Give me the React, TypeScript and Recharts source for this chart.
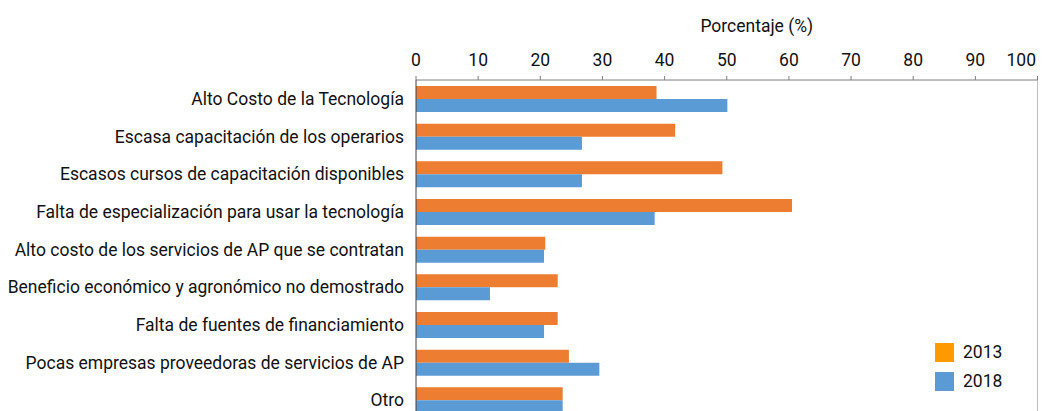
import { BarChart, Bar, XAxis, YAxis, ReferenceLine } from 'recharts';

const categories = [
  'Alto Costo de la Tecnología',
  'Escasa capacitación de los operarios',
  'Escasos cursos de capacitación disponibles',
  'Falta de especialización para usar la tecnología',
  'Alto costo de los servicios de AP que se contratan',
  'Beneficio económico y agronómico no demostrado',
  'Falta de fuentes de financiamiento',
  'Pocas empresas proveedoras de servicios de AP',
  'Otro',
];

const values2013 = [38.7, 41.7, 49.3, 60.5, 20.8, 22.8, 22.8, 24.6, 23.6];
const values2018 = [50.1, 26.7, 26.7, 38.4, 20.6, 11.9, 20.6, 29.5, 23.6];

const xTicks = [0, 10, 20, 30, 40, 50, 60, 70, 80, 90, 100];

const BAR_COLORS = { y2013: '#ED7D31', y2018: '#5B9BD5' };
const LEGEND_ITEMS = [
  { label: '2013', color: '#FF9900' },
  { label: '2018', color: '#5B9BD5' },
];

const FONT = 'Roboto, "Noto Sans", sans-serif';
const FONT_SIZE = 17.5;

const chartData = categories.map((name, i) => ({
  name,
  y2013: values2013[i],
  y2018: values2018[i],
}));

// top axis tick; the last label is pulled inside so it is not cut at the edge
function TopTick(props: any) {
  const { x, y, payload } = props;
  const last = payload.value === xTicks[xTicks.length - 1];
  return (
    <text
      x={last ? x + 3 : x}
      y={y}
      textAnchor={last ? 'end' : 'middle'}
      fontFamily={FONT}
      fontSize={FONT_SIZE}
      fill="#111"
    >
      {payload.value}
    </text>
  );
}

function LegendBox() {
  return (
    <div
      style={{
        position: 'absolute',
        left: 935,
        top: 342.5,
        fontFamily: FONT,
        fontSize: FONT_SIZE,
        color: '#111',
      }}
    >
      {LEGEND_ITEMS.map((item) => (
        <div
          key={item.label}
          style={{ display: 'flex', alignItems: 'center', height: 19, marginBottom: 10 }}
        >
          <span
            style={{ width: 19, height: 19, background: item.color, display: 'inline-block' }}
          />
          <span style={{ marginLeft: 9 }}>{item.label}</span>
        </div>
      ))}
    </div>
  );
}

export default function App() {
  return (
    <div
      style={{
        position: 'absolute',
        left: 0,
        top: 0,
        width: 1045,
        height: 411,
        overflow: 'hidden',
        background: '#fff',
      }}
    >
      <BarChart
        width={1045}
        height={419}
        data={chartData}
        layout="vertical"
        margin={{ top: 0, right: 7.5, left: 0, bottom: 0 }}
        barCategoryGap={6}
        barGap={0}
      >
        <XAxis
          type="number"
          orientation="top"
          domain={[0, 100]}
          ticks={xTicks}
          height={80}
          tickSize={4}
          tickMargin={10}
          axisLine={{ stroke: '#7f7f7f' }}
          tickLine={{ stroke: '#7f7f7f' }}
          tick={<TopTick />}
          label={{
            value: 'Porcentaje (%)',
            position: 'insideTop',
            offset: 20,
            dx: 30,
            fontFamily: FONT,
            fontSize: FONT_SIZE,
            fill: '#111',
          }}
        />
        <YAxis
          type="category"
          dataKey="name"
          width={416}
          tickSize={0}
          tickMargin={12}
          tickLine={false}
          interval={0}
          axisLine={{ stroke: '#404040' }}
          tick={{ fontFamily: FONT, fontSize: FONT_SIZE, fill: '#111' }}
        />
        <ReferenceLine x={100} stroke="#bfbfbf" />
        <Bar dataKey="y2013" name="2013" fill={BAR_COLORS.y2013} isAnimationActive={false} />
        <Bar dataKey="y2018" name="2018" fill={BAR_COLORS.y2018} isAnimationActive={false} />
      </BarChart>
      <LegendBox />
    </div>
  );
}
